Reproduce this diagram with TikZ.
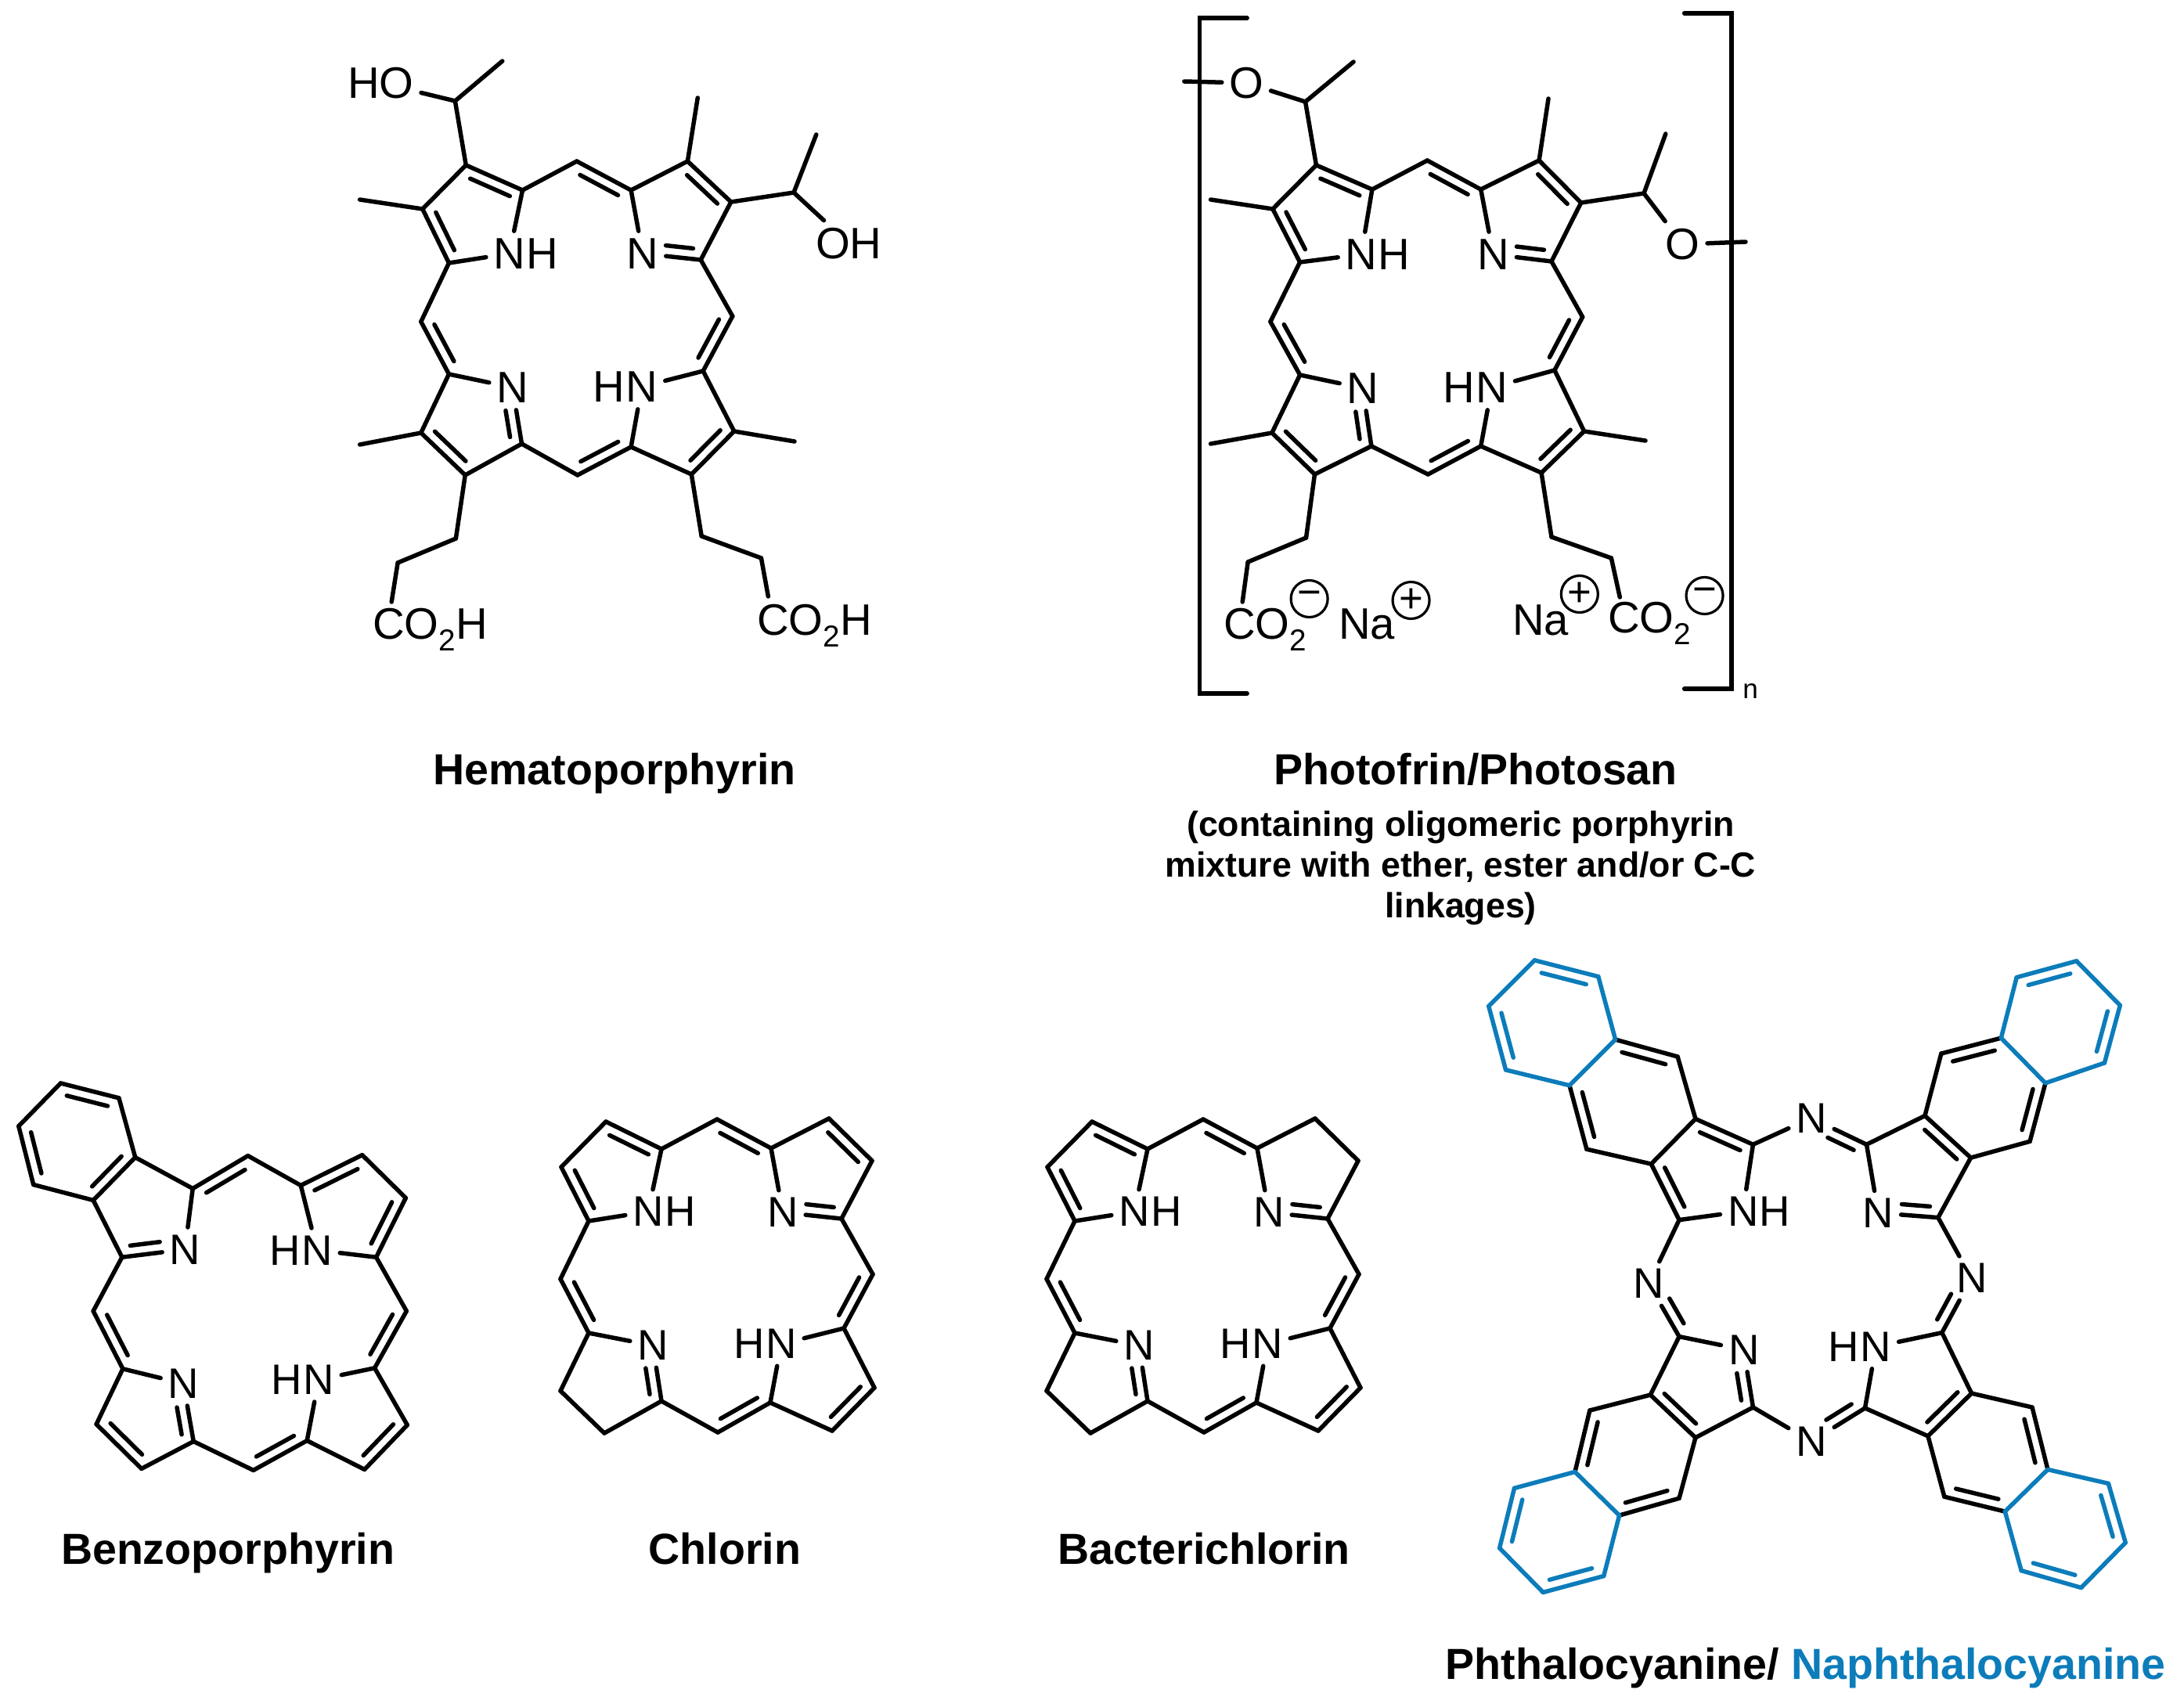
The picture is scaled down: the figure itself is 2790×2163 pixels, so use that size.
\documentclass[tikz,border=0pt]{standalone}
\usepackage{fontspec}
\setmainfont{Liberation Sans}
\usetikzlibrary{calc}
\usetikzlibrary{positioning}

\definecolor{naphblue}{HTML}{0C7CBA}

\tikzset{
    bond/.style={line width=.055cm,line cap=round,line join=miter},
    bluebond/.style={bond,naphblue},
    atom/.style={inner sep=2.5pt,font=\fontsize{15.5}{18}\selectfont},
    frag/.style={inner sep=0pt,anchor=base west,font=\fontsize{16}{18}\selectfont},
    bigatom/.style={atom,font=\fontsize{16}{18}\selectfont},
    charge/.style={draw,circle,line width=.032cm,inner sep=0pt,minimum size=.47cm,font=\fontsize{15}{18}\selectfont},
    capt/.style={inner sep=0pt,anchor=base,font=\bfseries\fontsize{15.8}{18}\selectfont},
}

% Named points, single bonds, inner lines of double bonds:
\newcommand{\pts}[1]{\foreach \n/\x/\y in {#1} {\coordinate (\n) at (\x,\y);}}
\newcommand{\sgl}[2][bond]{\foreach \a/\b in {#2} {\draw[#1] (\a) -- (\b);}}
\newcommand{\dbl}[2][bond]{\foreach \a/\b in {#2} {\draw[#1] ($(\a)!.15!(\b)!.135cm!90:(\b)$) -- ($(\a)!.85!(\b)!.135cm!90:(\b)$);}}
\newcommand{\dblN}[3][90]{\draw[bond] ($(#2)!.15!(#3)!.135cm!#1:(#3)$) -- ($(#2)!.62!(#3)!.135cm!#1:(#3)$);}
\newcommand{\subtwo}{\raisebox{-.28em}{\fontsize{11}{12}\selectfont 2}}

% The ring shared by all the porphyrins:
\newcommand{\skeleton}{\sgl{a1/a2,a2/a3,a3/n1,n1/a4,a4/a1,a4/m1,m1/b1,b1/n2,n2/b4,b4/b3,b3/b2,b2/b1,b4/m2,m2/d4,d4/n4,n4/d1,d1/d2,d2/d3,d3/d4,d1/m3,m3/c2,c2/n3,n3/c1,c1/c4,c4/c3,c3/c2,c1/m4,m4/a3}}
\newcommand{\coredbl}{\dbl{a4/a1,a2/a3,b1/m1,d4/m2,m4/c1,m3/d1,d2/d3}\dblN[-90]{b4}{n2}\dblN{c2}{n3}}
\newcommand{\chlorincore}{
    \pts{a1/774/1433,a2/717/1491,a3/752/1560,a4/845/1468,m1/916/1430,b1/985/1467,b2/1059/1429,b3/1114/1483,b4/1075/1557,m2/1115/1628,d4/1078/1697,d3/1117/1773,d2/1063/1828,d1/984/1792,m3/917/1830,c2/845/1790,c3/772/1831,c4/716/1777,c1/752/1703,m4/716/1634}
    \node[atom] (n1) at (828,1548) {N};
    \node[atom,right=-5pt of n1] (h1) {H};
    \node[atom] (n2) at (1000,1549) {N};
    \node[atom] (n3) at (834,1719) {N};
    \node[atom] (n4) at (998,1717) {N};
    \node[atom,left=-5pt of n4] (h4) {H};
    \skeleton
    \coredbl
}

\begin{document}
\begin{tikzpicture}[x=.01cm,y=-.01cm]
    \useasboundingbox (0,0) rectangle (2790,2163);

    % Hematoporphyrin:
    \begin{scope}[name prefix=hp-,xshift=.042cm,xscale=.99]
    \pts{a1/597/211,a2/541/267,a3/575/336,a4/670/243,m1/740/206,b1/810/243,b2/883/206,b3/939/258,b4/900/332,m2/941/404,d4/903/474,d3/943/551,d2/888/606,d1/810/571,m3/741/607,c2/669/567,c3/596/607,c4/539/553,c1/575/478,m4/539/411}
    \pts{ch1/583/129,me1/644/78,me2/460/255,me3/896/125,ch2/1020/246,me4/1049/172,me5/460/568,me6/1021/564,p1/584/688,p2/509/719,p3/501/769,q1/901/685,q2/978/713,q3/987/762}
    \node[bigatom] (n1) at (653,324) {N};
    \node[bigatom,right=-5pt of n1] (h1) {H};
    \node[bigatom] (n2) at (825,324) {N};
    \node[bigatom] (n3) at (657,495) {N};
    \node[bigatom] (n4) at (824,494) {N};
    \node[bigatom,left=-5pt of n4] (h4) {H};
    \node[bigatom] (ho) at (487,106) {HO};
    \node[bigatom] (oh) at (1091,311) {OH};
    \node[frag] (acid1) at (476,816) {CO\subtwo H};
    \node[frag] (acid2) at (972,811) {CO\subtwo H};
    \skeleton
    \coredbl
    \dbl{b3/b2,c4/c3}
    \sgl{a1/ch1,ch1/me1,ch1/ho,a2/me2,b2/me3,b3/ch2,ch2/me4,ch2/oh,c4/me5,d3/me6,c3/p1,p1/p2,p2/p3,d2/q1,q1/q2,q2/q3}
    \end{scope}

    % Photofrin, with its brackets:
    \begin{scope}[name prefix=pf-,xshift=.12cm,xscale=.992]
    \pts{a1/1683/211,a2/1627/267,a3/1662/335,a4/1755/242,m1/1826/205,b1/1895/242,b2/1970/205,b3/2024/259,b4/1986/334,m2/2026/405,d4/1990/473,d3/2028/551,d2/1973/604,d1/1895/570,m3/1827/606,c2/1754/570,c3/1681/606,c4/1626/553,c1/1662/479,m4/1624/411}
    \pts{ch1/1669/130,me1/1731/79,me2/1547/255,me3/1982/126,ch2/2105/247,me4/2133/171,me5/1547/567,me6/2107/563,p1/1670/687,p2/1595/718,p3/1588/769,q1/1986/686,q2/2063/713,q3/2074/763,st1/1513/104,st2/2236/309}
    \node[bigatom] (n1) at (1741,325) {N};
    \node[bigatom,right=-5pt of n1] (h1) {H};
    \node[bigatom] (n2) at (1911,325) {N};
    \node[bigatom] (n3) at (1743,496) {N};
    \node[bigatom] (n4) at (1909,495) {N};
    \node[bigatom,left=-5pt of n4] (h4) {H};
    \node[bigatom] (o1) at (1593,106) {O};
    \node[bigatom] (o2) at (2155,312) {O};
    \node[frag] (acid1) at (1563,816) {CO\subtwo};
    \node[frag] (acid2) at (2058,808) {CO\subtwo};
    \node[frag] (na1) at (1711,816) {Na};
    \node[frag] (na2) at (1935,811) {Na};
    \node[charge] (neg1) at (1674,765) {−};
    \node[charge] (neg2) at (2183,761) {−};
    \node[charge] (pos1) at (1805,767) {+};
    \node[charge] (pos2) at (2022,759) {+};
    \skeleton
    \coredbl
    \dbl{b3/b2,c4/c3}
    \sgl{a1/ch1,ch1/me1,ch1/o1,o1/st1,a2/me2,b2/me3,b3/ch2,ch2/me4,ch2/o2,o2/st2,c4/me5,d3/me6,c3/p1,p1/p2,p2/p3,d2/q1,q1/q2,q2/q3}
    \pts{lb1/1594/23,lb2/1533/23,lb3/1533/886,lb4/1594/886,rb1/2157/17,rb2/2218/17,rb3/2218/880,rb4/2157/880}
    \draw[bond] (lb1) -- (lb2) -- (lb3) -- (lb4);
    \draw[bond] (rb1) -- (rb2) -- (rb3) -- (rb4);
    \node[inner sep=0pt,font=\fontsize{10}{12}\selectfont] (rep) at (2242,883) {n};
    \end{scope}

    % Benzoporphyrin:
    \begin{scope}[name prefix=bp-,yshift=-.041cm,xscale=.993,yscale=.997]
    \pts{a1/174/1479,a2/120/1534,a3/157/1607,a4/248/1519,m1/319/1477,b1/387/1515,b2/466/1476,b3/522/1531,b4/484/1607,m2/523/1676,d4/482/1749,d3/524/1822,d2/469/1879,d1/395/1842,m3/326/1880,c2/249/1843,c3/182/1878,c4/124/1821,c1/158/1750,m4/120/1676}
    \pts{z1/153/1403,z2/78/1384,z3/24/1439,z4/43/1514}
    \node[atom] (n1) at (238,1597) {N};
    \node[atom] (n2) at (408,1598) {N};
    \node[atom,left=-5pt of n2] (h2) {H};
    \node[atom] (n3) at (236,1769) {N};
    \node[atom] (n4) at (410,1764) {N};
    \node[atom,left=-5pt of n4] (h4) {H};
    \skeleton
    \sgl{a1/z1,z1/z2,z2/z3,z3/z4,z4/a2}
    \dbl{z1/z2,z3/z4,a2/a1,m1/a4,b2/b1,b4/b3,d4/m2,m4/c1,c4/c3,m3/d1,d2/d3}
    \dblN{a3}{n1}
    \dblN{c2}{n3}
    \end{scope}

    % Chlorin and bacterichlorin:
    \begin{scope}[name prefix=cl-]
    \chlorincore
    \dbl{b3/b2}
    \end{scope}
    \begin{scope}[name prefix=bc-,shift={(621,0)}]
    \chlorincore
    \end{scope}

    % Phthalocyanine, corner by corner:
    \begin{scope}[name prefix=pc-,shift={(12.4,8)},scale=.9934]
    \pts{tl-a/2242/1464,tl-b/2168/1431,tl-c/2111/1489,tl-d/2147/1561,tl-e/2145/1351,tl-f/2065/1329,tl-g/2006/1388,tl-h/2028/1470,tl-r1/2043/1248,tl-r2/1961/1227,tl-r3/1902/1286,tl-r4/1924/1368}
    \pts{tr-a/2480/1558,tr-b/2522/1481,tr-c/2463/1427,tr-d/2388/1464,tr-e/2598/1460,tr-f/2618/1385,tr-g/2561/1327,tr-h/2484/1347,tr-r1/2694/1359,tr-r2/2714/1285,tr-r3/2658/1228,tr-r4/2581/1249}
    \pts{bl-a/2147/1711,bl-b/2110/1786,bl-c/2168/1841,bl-d/2242/1802,bl-e/2032/1806,bl-f/2013/1885,bl-g/2070/1941,bl-h/2147/1919,bl-r1/1935/1906,bl-r2/1916/1983,bl-r3/1972/2040,bl-r4/2050/2019}
    \pts{br-a/2386/1803,br-b/2467/1839,br-c/2523/1784,br-d/2485/1706,br-e/2488/1917,br-f/2566/1936,br-g/2621/1882,br-h/2601/1802,br-r1/2587/2012,br-r2/2664/2034,br-r3/2721/1976,br-r4/2699/1900}
    \node[atom] (tl-n) at (2229,1550) {N};
    \node[atom,right=-5pt of tl-n] (tl-x) {H};
    \node[atom] (tr-n) at (2403,1552) {N};
    \node[atom] (bl-n) at (2230,1728) {N};
    \node[atom] (br-n) at (2400,1724) {N};
    \node[atom,left=-5pt of br-n] (br-x) {H};
    \node[atom] (nt) at (2317,1430) {N};
    \node[atom] (nr) at (2523,1636) {N};
    \node[atom] (nb) at (2317,1846) {N};
    \node[atom] (nl) at (2108,1643) {N};
    \foreach \q in {tl,tr,bl,br} {
        \sgl{\q-a/\q-b,\q-b/\q-c,\q-c/\q-d,\q-d/\q-n,\q-n/\q-a,\q-b/\q-e,\q-e/\q-f,\q-g/\q-h,\q-h/\q-c}
        \sgl[bluebond]{\q-f/\q-r1,\q-r1/\q-r2,\q-r2/\q-r3,\q-r3/\q-r4,\q-r4/\q-g,\q-g/\q-f}
        \dbl{\q-e/\q-f,\q-g/\q-h}
        \dbl[bluebond]{\q-r1/\q-r2,\q-r3/\q-r4}
    }
    \sgl{tl-a/nt,nt/tr-d,tr-a/nr,nr/br-d,br-a/nb,nb/bl-d,bl-a/nl,nl/tl-d}
    \dbl{tl-a/tl-b,tl-c/tl-d,tr-b/tr-c,bl-b/bl-c,br-b/br-c}
    \dblN[-90]{tr-a}{tr-n}
    \dblN{tr-d}{nt}
    \dblN{br-d}{nr}
    \dblN[-90]{bl-a}{nl}
    \dblN[-90]{br-a}{nb}
    \dblN{bl-d}{bl-n}
    \end{scope}

    % Captions:
    \node[capt] (hpcap) at (785,1002) {Hematoporphyrin};
    \node[capt] (pfcap) at (1885,1002) {Photofrin/Photosan};
    \node[inner sep=0pt,anchor=north,align=center,font=\bfseries\fontsize{12.7}{14.8}\selectfont] (pfnote) at (1866,1035) {(containing oligomeric porphyrin\\mixture with ether, ester and/or C-C\\linkages)};
    \node[capt] (bpcap) at (291,1998) {Benzoporphyrin};
    \node[capt] (clcap) at (926,1998) {Chlorin};
    \node[capt] (bccap) at (1538,1998) {Bacterichlorin};
    \node[capt,anchor=base west] (pccap) at (1846,2145) {Phthalocyanine/ \textcolor{naphblue}{Naphthalocyanine}};
\end{tikzpicture}
\end{document}
